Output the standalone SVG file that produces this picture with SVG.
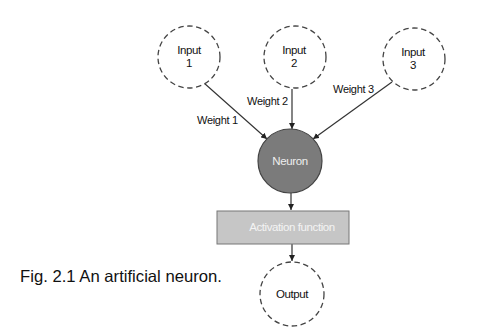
<svg xmlns="http://www.w3.org/2000/svg" width="495" height="336" viewBox="0 0 495 336">
  <style>
    text { font-family: "Liberation Sans", Arial, sans-serif; fill: #111; }
    .io { fill: #fff; stroke: #444; stroke-width: 1.3; stroke-dasharray: 5.5 3.5; }
    .lbl { font-size: 11.5px; text-anchor: middle; letter-spacing: -0.4px; }
    .w { font-size: 11px; letter-spacing: -0.3px; }
    .edge { stroke: #333; stroke-width: 1.2; fill: none; marker-end: url(#arrow); }
  </style>
  <defs>
    <marker id="arrow" viewBox="0 0 10 10" refX="10" refY="5" markerWidth="5" markerHeight="5" orient="auto">
      <path d="M0,0 L10,5 L0,10 z" fill="#222"/>
    </marker>
  </defs>
  <rect width="495" height="336" fill="#fff"/>

  <g id="connectors">
    <line class="edge" x1="204" y1="83" x2="267" y2="139"/>
    <line class="edge" x1="292" y1="89" x2="292" y2="129"/>
    <line class="edge" x1="392" y1="82" x2="313" y2="139"/>
    <line class="edge" x1="291" y1="193" x2="291" y2="210"/>
    <line class="edge" x1="292" y1="244" x2="292" y2="261"/>
    <text class="w" x="197" y="124">Weight 1</text>
    <text class="w" x="247" y="105">Weight 2</text>
    <text class="w" x="333" y="93">Weight 3</text>
  </g>

  <g id="input1">
    <circle class="io" cx="189" cy="57" r="31"/>
    <text class="lbl" x="189" y="54">Input</text>
    <text class="lbl" x="189" y="67">1</text>
  </g>
  <g id="input2">
    <circle class="io" cx="295" cy="57" r="31"/>
    <text class="lbl" x="294" y="54">Input</text>
    <text class="lbl" x="294" y="67">2</text>
  </g>
  <g id="input3">
    <circle class="io" cx="414" cy="59" r="31"/>
    <text class="lbl" x="413" y="56">Input</text>
    <text class="lbl" x="413" y="69">3</text>
  </g>
  <g id="neuron">
    <circle cx="290" cy="161" r="32" fill="#7b7b7b" stroke="#444" stroke-width="1.2"/>
    <text class="lbl" x="290" y="165" style="fill:#eee">Neuron</text>
  </g>
  <g id="activation">
    <rect x="217" y="211" width="132" height="33" fill="#c6c6c6" stroke="#777" stroke-width="1"/>
    <text class="lbl" x="292" y="231" style="fill:#f4f4f4">Activation function</text>
  </g>
  <g id="output">
    <circle class="io" cx="292" cy="294" r="32"/>
    <text class="lbl" x="292" y="298">Output</text>
  </g>

  <text x="20" y="282" font-size="16.5" textLength="202" lengthAdjust="spacingAndGlyphs">Fig. 2.1 An artificial neuron.</text>
</svg>
